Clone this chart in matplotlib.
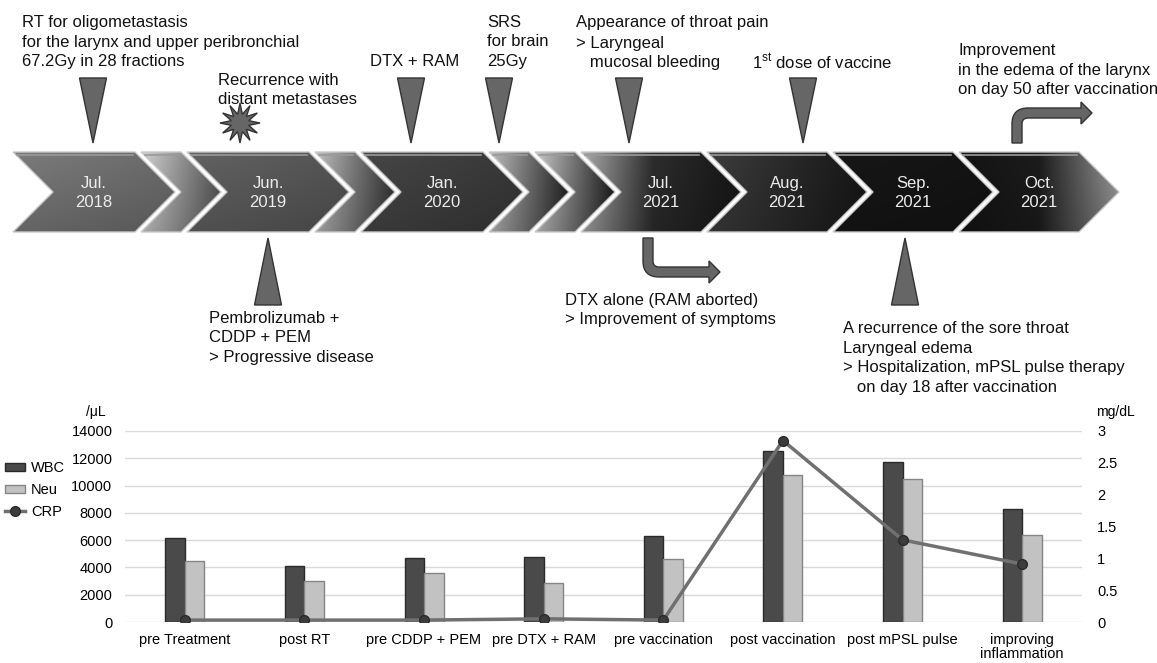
import numpy as np
import matplotlib.pyplot as plt
from matplotlib.patches import Polygon, PathPatch, Patch
from matplotlib.path import Path
from matplotlib.lines import Line2D

plt.rcParams['font.family'] = ['Liberation Sans', 'DejaVu Sans']
plt.rcParams['mathtext.fontset'] = 'custom'
plt.rcParams['mathtext.rm'] = 'Liberation Sans'

#%% Lab values at each time point

categories = ['pre Treatment', 'post RT', 'pre CDDP + PEM', 'pre DTX + RAM',
              'pre vaccination', 'post vaccination', 'post mPSL pulse',
              'improving\ninflammation']
wbc = [6150, 4100, 4700, 4750, 6300, 12500, 11750, 8250]   # /uL
neu = [4500, 3000, 3600, 2850, 4650, 10800, 10450, 6400]   # /uL
crp = [0.03, 0.03, 0.03, 0.05, 0.03, 2.85, 1.29, 0.91]     # mg/dL

#%% Timeline labels (None = small connector chevron)

months = ['Jul.\n2018', None, 'Jun.\n2019', None, 'Jan.\n2020', None, None,
          'Jul.\n2021', 'Aug.\n2021', 'Sep.\n2021', 'Oct.\n2021']

fig = plt.figure(figsize=(11.57, 6.63), dpi=100)
ax0 = fig.add_axes([0, 0, 1, 1])
ax0.set_xlim(0, 1157)
ax0.set_ylim(663, 0)
ax0.axis('off')

# chevron geometry in pixels
widths = [122, 40, 122, 40, 122, 40, 40, 120, 120, 120, 120]
shades = [[(0, .44), (1, .38)],
          [(0, .75), (1, .30)],
          [(0, .35), (1, .30)],
          [(0, .68), (1, .18)],
          [(0, .25), (1, .20)],
          [(0, .68), (1, .12)],
          [(0, .72), (1, .10)],
          [(0, .62), (.45, .16), (1, .08)],
          [(0, .22), (1, .08)],
          [(0, .08), (1, .07)],
          [(0, .07), (.5, .10), (1, .55)]]
top, bot, d, gap = 152, 232, 40, 6
mid = (top + bot) / 2


def shade(ax, poly, stops, x0, x1):
    pos = [s[0] for s in stops]
    val = [s[1] for s in stops]
    row = np.interp(np.linspace(0, 1, 200), pos, val)
    vert = 1.10 - 0.2 * np.linspace(0, 1, 40)
    g = np.clip(np.outer(vert, row), 0, 1)
    im = ax.imshow(np.dstack([g, g, g]), extent=(x0, x1, bot, top),
                   aspect='auto', interpolation='bilinear', zorder=2)
    im.set_clip_path(poly)


x0 = 13
for w, lab, st in zip(widths, months, shades):
    pts = [(x0, top), (x0 + w, top), (x0 + w + d, mid), (x0 + w, bot),
           (x0, bot), (x0 + d, mid)]
    poly = Polygon(pts, closed=True, facecolor='none', edgecolor='none')
    ax0.add_patch(poly)
    shade(ax0, poly, st, x0, x0 + w + d)
    ax0.add_patch(Polygon(pts, closed=True, fill=False, edgecolor='#c8c8c8',
                          lw=1, zorder=3))
    ax0.plot([x0 + 4, x0 + w - 2], [top + 3, top + 3], color='#9a9a9a',
             lw=1.2, zorder=3)
    if lab:
        ax0.text(x0 + (w + d) / 2, mid + 1, lab, ha='center', va='center',
                 color='#ececec', fontsize=12, linespacing=1.4, zorder=4)
    x0 += w + gap

# event markers
tri_kw = dict(closed=True, facecolor='#666666', edgecolor='#333333', lw=1,
              zorder=3)
for xc in [93, 411, 499, 629, 803]:
    ax0.add_patch(Polygon([(xc - 13.5, 78), (xc + 13.5, 78), (xc, 143)],
                          **tri_kw))
for xc in [268, 905]:
    ax0.add_patch(Polygon([(xc - 13.5, 305), (xc + 13.5, 305), (xc, 238)],
                          **tri_kw))

ang = np.linspace(0, 2 * np.pi, 24, endpoint=False) + np.pi / 2
rad = np.where(np.arange(24) % 2 == 0, 20, 9)
ax0.add_patch(Polygon(np.c_[240 + rad * np.cos(ang), 123 - rad * np.sin(ang)],
                      **tri_kw))


def bent_arrow(xs, ys, yc, xtip, down):
    # xs: stem left edge, ys: stem start, yc: shaft centre
    t, R, r = 10, 16, 6
    s = 1 if down else -1
    yo = yc + s * t / 2   # outer edge of the shaft
    yi = yc - s * t / 2
    xh = xtip - 11
    verts = [(xs, ys), (xs, yo - s * R), (xs, yo), (xs + R, yo),
             (xh, yo), (xh, yo + s * 6), (xtip, yc), (xh, yi - s * 6),
             (xh, yi), (xs + t + r, yi), (xs + t, yi), (xs + t, yi - s * r),
             (xs + t, ys), (xs, ys)]
    codes = [Path.MOVETO, Path.LINETO, Path.CURVE3, Path.CURVE3,
             Path.LINETO, Path.LINETO, Path.LINETO, Path.LINETO,
             Path.LINETO, Path.LINETO, Path.CURVE3, Path.CURVE3,
             Path.LINETO, Path.CLOSEPOLY]
    ax0.add_patch(PathPatch(Path(verts, codes), facecolor='#666666',
                            edgecolor='#333333', lw=1, zorder=3))


bent_arrow(1012, 143, 113, 1092, down=False)
bent_arrow(643, 238, 272, 720, down=True)

txt = dict(fontsize=12, ha='left', va='center', color='#111111',
           linespacing=1.38)
ax0.text(22, 42, 'RT for oligometastasis\nfor the larynx and upper '
         'peribronchial\n67.2Gy in 28 fractions', **txt)
ax0.text(218, 90, 'Recurrence with\ndistant metastases', **txt)
ax0.text(370, 62, 'DTX + RAM', **txt)
ax0.text(487, 42, 'SRS\nfor brain\n25Gy', **txt)
ax0.text(576, 23, 'Appearance of throat pain', **txt)
ax0.text(576, 53, '> Laryngeal\n   mucosal bleeding', **txt)
ax0.text(752, 62, r'1$^{\mathrm{st}}$ dose of vaccine', **txt)
ax0.text(958, 70, 'Improvement\nin the edema of the larynx\non day 50 '
         'after vaccination', **txt)
ax0.text(209, 338, 'Pembrolizumab +\nCDDP + PEM\n> Progressive disease',
         **txt)
ax0.text(565, 310, 'DTX alone (RAM aborted)\n> Improvement of symptoms',
         **txt)
ax0.text(843, 358, 'A recurrence of the sore throat\nLaryngeal edema\n'
         '> Hospitalization, mPSL pulse therapy\n   on day 18 after '
         'vaccination', **txt)

ax0.text(96, 412, '/\u03bcL', fontsize=10, ha='center', va='center')
ax0.text(1096, 412, 'mg/dL', fontsize=10, ha='left', va='center')

#%% Bar chart

ax = fig.add_axes([125 / 1157, 41 / 663, 957 / 1157, 191 / 663])
x = np.arange(len(categories))
bw = 0.163
ax.bar(x - bw / 2, wbc, bw, color='#4a4a4a', edgecolor='#2a2a2a', lw=1,
       label='WBC')
ax.bar(x + bw / 2, neu, bw, color='#c2c2c2', edgecolor='#858585', lw=1,
       label='Neu')
ax.set_xlim(-0.5, len(categories) - 0.5)
ax.set_ylim(0, 14000)
ax.set_yticks(np.arange(0, 14001, 2000))
ax.set_xticks(x)
ax.set_xticklabels(categories, fontsize=10.5, linespacing=1.0)
ax.tick_params(length=0, labelsize=10.5)
ax.tick_params(axis='y', pad=9)
ax.tick_params(axis='x', pad=8)
ax.grid(axis='y', color='#d9d9d9', lw=1)
ax.set_axisbelow(True)
for s in ax.spines.values():
    s.set_visible(False)

ax2 = ax.twinx()
ax2.plot(x, crp, color='#707070', lw=2.5, marker='o', ms=7,
         markerfacecolor='#3c3c3c', markeredgecolor='#2a2a2a', label='CRP')
ax2.set_ylim(0, 3)
ax2.set_yticks(np.arange(0, 3.01, 0.5))
ax2.set_yticklabels(['0', '0.5', '1', '1.5', '2', '2.5', '3'])
ax2.tick_params(length=0, labelsize=10.5, pad=11)
for s in ax2.spines.values():
    s.set_visible(False)

handles = [Patch(facecolor='#4a4a4a', edgecolor='#2a2a2a'),
           Patch(facecolor='#c2c2c2', edgecolor='#858585'),
           Line2D([], [], color='#707070', lw=2.5, marker='o', ms=7,
                  markerfacecolor='#3c3c3c', markeredgecolor='#2a2a2a')]
fig.legend(handles, ['WBC', 'Neu', 'CRP'], loc='upper left',
           bbox_to_anchor=(0.004, 1 - 461 / 663), frameon=False,
           fontsize=10.5, handlelength=1.4, handleheight=0.5,
           labelspacing=0.55, handletextpad=0.4, borderaxespad=0,
           borderpad=0)

plt.savefig('out.png', dpi=100)
